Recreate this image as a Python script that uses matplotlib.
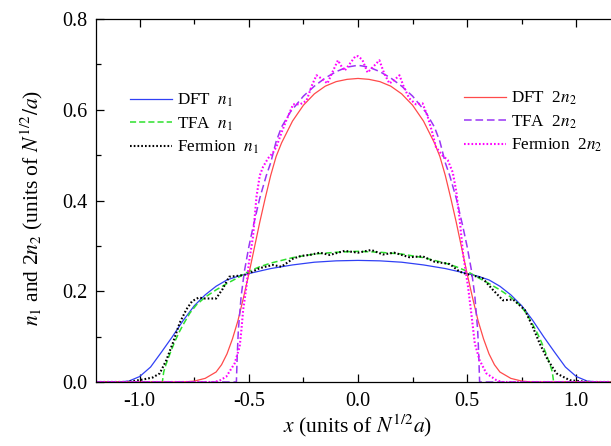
import matplotlib
matplotlib.use("Agg")
import matplotlib.pyplot as plt
from matplotlib.ticker import MultipleLocator

plt.rcParams["font.family"] = "serif"
plt.rcParams["font.serif"] = ["Liberation Serif", "DejaVu Serif"]
plt.rcParams["mathtext.fontset"] = "stix"

# ---- density profiles ----
# DFT n1
x_dft1 = [-1.2, -1.1, -1.05, -1.0, -0.95, -0.9, -0.85, -0.8, -0.75, -0.7, -0.65, -0.6,
          -0.55, -0.5, -0.4, -0.3, -0.2, -0.1, 0.0, 0.1, 0.2, 0.3, 0.4, 0.5, 0.55, 0.6,
          0.65, 0.7, 0.75, 0.8, 0.85, 0.9, 0.95, 1.0, 1.05, 1.1, 1.2]
n_dft1 = [0.0, 0.0, 0.002, 0.012, 0.033, 0.066, 0.100, 0.136, 0.168, 0.192, 0.211, 0.225,
          0.233, 0.239, 0.250, 0.258, 0.264, 0.267, 0.268, 0.267, 0.264, 0.258, 0.250, 0.239,
          0.233, 0.225, 0.211, 0.192, 0.168, 0.136, 0.100, 0.066, 0.033, 0.012, 0.002, 0.0, 0.0]

# TFA n1
x_tfa1 = [-1.2, -0.896, -0.89, -0.88, -0.86, -0.84, -0.82, -0.8, -0.77, -0.74, -0.7, -0.65,
          -0.6, -0.55, -0.5, -0.45, -0.4, -0.3, -0.2, -0.1, 0.0, 0.1, 0.2, 0.3, 0.4, 0.45,
          0.5, 0.55, 0.6, 0.65, 0.7, 0.74, 0.77, 0.8, 0.82, 0.84, 0.86, 0.88, 0.89, 0.896, 1.2]
n_tfa1 = [0.0, 0.0, 0.022, 0.038, 0.064, 0.088, 0.109, 0.127, 0.152, 0.170, 0.187, 0.203,
          0.217, 0.230, 0.244, 0.254, 0.262, 0.274, 0.282, 0.286, 0.288, 0.286, 0.282, 0.274,
          0.262, 0.254, 0.244, 0.230, 0.217, 0.203, 0.187, 0.170, 0.152, 0.127, 0.109, 0.088,
          0.064, 0.038, 0.022, 0.0, 0.0]

# Fermion n1
x_fer1 = [-1.2, -1.06, -1.03, -0.98, -0.94, -0.908, -0.878, -0.848, -0.817, -0.786, -0.76,
          -0.73, -0.7, -0.65, -0.62, -0.59, -0.55, -0.51, -0.48, -0.45, -0.39, -0.351, -0.297,
          -0.26, -0.221, -0.175, -0.129, -0.061, 0.0, 0.061, 0.114, 0.166, 0.235, 0.296, 0.351,
          0.42, 0.466, 0.511, 0.55, 0.57, 0.618, 0.664, 0.71, 0.764, 0.8, 0.832, 0.87, 0.909,
          0.97, 1.03, 1.06, 1.2]
n_fer1 = [0.0, 0.0, 0.002, 0.006, 0.010, 0.019, 0.048, 0.086, 0.130, 0.160, 0.178,
          0.186, 0.184, 0.184, 0.205, 0.232, 0.234, 0.237, 0.244, 0.251, 0.258, 0.254, 0.272,
          0.278, 0.280, 0.285, 0.280, 0.289, 0.285, 0.291, 0.281, 0.285, 0.275, 0.277, 0.265,
          0.260, 0.243, 0.236, 0.232, 0.229, 0.203, 0.180, 0.182, 0.159, 0.122, 0.085, 0.048,
          0.019, 0.004, 0.001, 0.0, 0.0]

# DFT 2n2
x_dft2 = [-1.2, -0.8, -0.75, -0.7, -0.65, -0.625, -0.6, -0.575, -0.55, -0.525, -0.5, -0.475,
          -0.45, -0.425, -0.4, -0.375, -0.35, -0.3, -0.25, -0.2, -0.15, -0.1, -0.05, 0.0,
          0.05, 0.1, 0.15, 0.2, 0.25, 0.3, 0.35, 0.375, 0.4, 0.425, 0.45, 0.475, 0.5, 0.525,
          0.55, 0.575, 0.6, 0.625, 0.65, 0.7, 0.75, 0.8, 1.2]
n_dft2 = [0.0, 0.0, 0.002, 0.008, 0.022, 0.038, 0.062, 0.095, 0.135, 0.185, 0.238, 0.295,
          0.352, 0.405, 0.455, 0.497, 0.527, 0.575, 0.610, 0.635, 0.652, 0.662, 0.667, 0.669,
          0.667, 0.662, 0.652, 0.635, 0.610, 0.575, 0.527, 0.497, 0.455, 0.405, 0.352, 0.295,
          0.238, 0.185, 0.135, 0.095, 0.062, 0.038, 0.022, 0.008, 0.002, 0.0, 0.0]

# TFA 2n2
x_tfa2 = [-1.2, -0.557, -0.553, -0.548, -0.535, -0.52, -0.5, -0.48, -0.45, -0.42, -0.4,
          -0.375, -0.35, -0.31, -0.25, -0.2, -0.15, -0.1, -0.05, 0.0, 0.05, 0.1, 0.15, 0.2,
          0.25, 0.31, 0.35, 0.375, 0.4, 0.42, 0.45, 0.48, 0.5, 0.52, 0.535, 0.548, 0.553,
          0.557, 1.2]
n_tfa2 = [0.0, 0.0, 0.060, 0.115, 0.190, 0.245, 0.298, 0.343, 0.405, 0.455, 0.483,
          0.530, 0.562, 0.595, 0.630, 0.652, 0.670, 0.684, 0.694, 0.698, 0.694, 0.684, 0.670,
          0.652, 0.630, 0.595, 0.562, 0.530, 0.483, 0.455, 0.405, 0.343, 0.298, 0.245, 0.190,
          0.115, 0.060, 0.0, 0.0]

# Fermion 2n2
x_fer2 = [-1.2, -0.66, -0.634, -0.603, -0.565, -0.542, -0.534, -0.526, -0.511, -0.5, -0.481,
          -0.465, -0.45, -0.435, -0.412, -0.39, -0.374, -0.35, -0.328, -0.297, -0.265, -0.236,
          -0.21, -0.19, -0.165, -0.14, -0.115, -0.092, -0.075, -0.061, -0.035, -0.012, 0.0,
          0.02, 0.044, 0.07, 0.098, 0.12, 0.144, 0.165, 0.19, 0.21, 0.235, 0.265, 0.296, 0.319,
          0.34, 0.357, 0.385, 0.411, 0.434, 0.45, 0.466, 0.481, 0.504, 0.519, 0.535, 0.557,
          0.588, 0.634, 0.66, 1.2]
n_fer2 = [0.0, 0.0, 0.003, 0.012, 0.041, 0.078, 0.115, 0.159, 0.210, 0.262, 0.320,
          0.408, 0.455, 0.474, 0.493, 0.505, 0.518, 0.550, 0.577, 0.612, 0.612, 0.620,
          0.655, 0.676, 0.668, 0.658, 0.685, 0.709, 0.695, 0.686, 0.703, 0.718, 0.718,
          0.710, 0.682, 0.695, 0.709, 0.680, 0.658, 0.665, 0.676, 0.650, 0.625, 0.612, 0.614,
          0.585, 0.550, 0.518, 0.500, 0.489, 0.462, 0.420, 0.357, 0.283, 0.210, 0.151, 0.085,
          0.048, 0.019, 0.004, 0.0, 0.0]

x_ticks = [-1.0, -0.5, 0.0, 0.5, 1.0]
x_tick_labels = ["-1.0", "-0.5", "0.0", "0.5", "1.0"]
y_ticks = [0.0, 0.2, 0.4, 0.6, 0.8]
y_tick_labels = ["0.0", "0.2", "0.4", "0.6", "0.8"]

fig = plt.figure(figsize=(6.11, 4.46), dpi=100)
ax = fig.add_axes([96 / 611, 64 / 446, 524 / 611, 363 / 446])

l_dft1, = ax.plot(x_dft1, n_dft1, color="#3040f5", lw=0.9, label=r"DFT  $n_1$")
l_tfa1, = ax.plot(x_tfa1, n_tfa1, color="#2ee02e", lw=1.1, dashes=(4, 2),
                  label=r"TFA  $n_1$")
l_fer1, = ax.plot(x_fer1, n_fer1, color="black", lw=1.5, dashes=(0.8, 1.0),
                  label=r"Fermion  $n_1$")
l_dft2, = ax.plot(x_dft2, n_dft2, color="#ff4a4a", lw=0.9, label=r"DFT  2$n_2$")
l_tfa2, = ax.plot(x_tfa2, n_tfa2, color="#9a35f5", lw=1.1, dashes=(5, 2.5),
                  label=r"TFA  2$n_2$")
l_fer2, = ax.plot(x_fer2, n_fer2, color="#ff00ff", lw=1.5, dashes=(0.8, 1.0),
                  label=r"Fermion  2$n_2$")

ax.set_xlim(-1.2, 1.2)
ax.set_ylim(0.0, 0.8)
ax.set_xticks(x_ticks)
ax.set_xticklabels(x_tick_labels)
ax.set_yticks(y_ticks)
ax.set_yticklabels(y_tick_labels)
ax.xaxis.set_minor_locator(MultipleLocator(0.25))
ax.yaxis.set_minor_locator(MultipleLocator(0.1))
ax.tick_params(which="both", direction="in", top=True, right=True, labelsize=14.5,
               width=0.9)
ax.tick_params(axis="x", pad=7)
ax.tick_params(axis="y", pad=6)
ax.tick_params(which="major", length=6)
ax.tick_params(which="minor", length=3.5)
for s in ax.spines.values():
    s.set_linewidth(0.9)

ax.set_xlabel(r"$x$ (units of $N^{1/2}a$)", fontsize=15.5)
ax.set_ylabel(r"$n_1$ and 2$n_2$ (units of $N^{1/2}/a$)", fontsize=15.5)
ax.xaxis.set_label_coords(0.5, -0.085)
ax.yaxis.set_label_coords(-0.097, 0.48)

leg_kw = dict(frameon=False, fontsize=12.3, borderpad=0, borderaxespad=0,
              handlelength=2.45, handletextpad=0.3, labelspacing=0.36,
              loc="center left", bbox_transform=fig.transFigure)
leg1 = ax.legend(handles=[l_dft1, l_tfa1, l_fer1],
                 bbox_to_anchor=(130 / 611, 1 - 124 / 446), **leg_kw)
ax.add_artist(leg1)
ax.legend(handles=[l_dft2, l_tfa2, l_fer2],
          bbox_to_anchor=(464 / 611, 1 - 122 / 446), **leg_kw)

fig.savefig("out.png", dpi=100)
